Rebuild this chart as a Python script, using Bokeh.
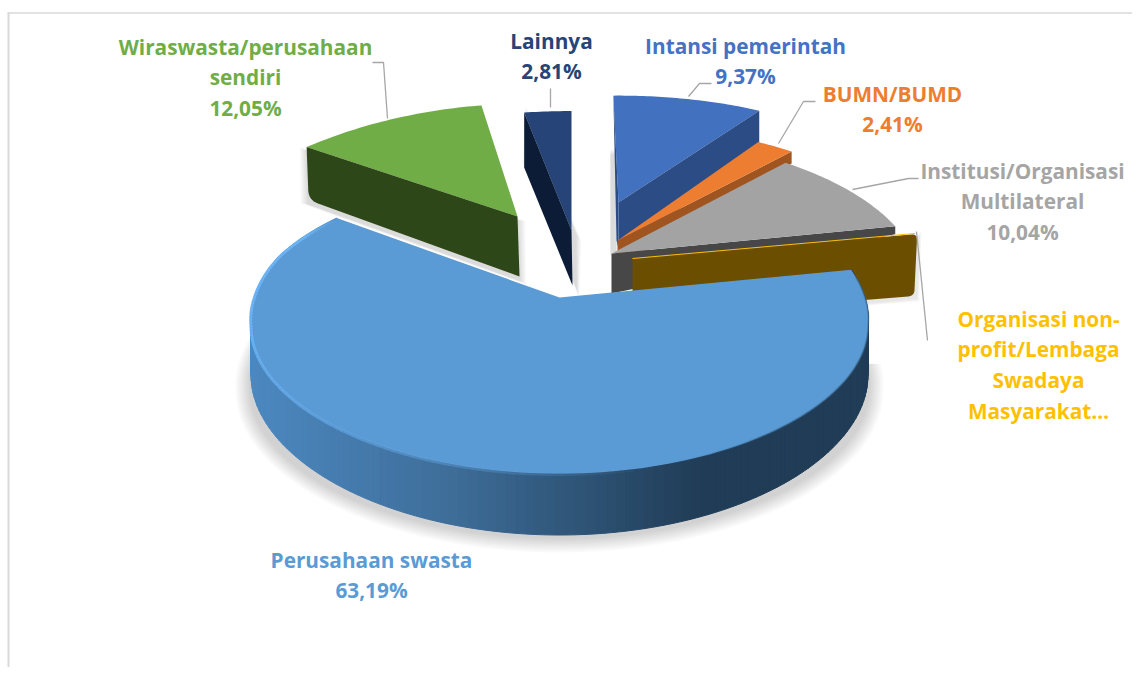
import math
from bokeh.plotting import figure
from bokeh.models import Range1d
from bokeh.core.properties import value
from bokeh.embed import file_html
from bokeh.resources import INLINE

# ---------- data ----------
categories = ["Intansi pemerintah", "BUMN/BUMD", "Institusi/Organisasi Multilateral",
              "Organisasi non-profit/Lembaga Swadaya Masyarakat", "Perusahaan swasta",
              "Wiraswasta/perusahaan sendiri", "Lainnya"]
shares = [9.37, 2.41, 10.04, 0.13, 63.19, 12.05, 2.81]
label_lines = [["Intansi pemerintah"], ["BUMN/BUMD"], ["Institusi/Organisasi", "Multilateral"],
               ["Organisasi non-", "profit/Lembaga", "Swadaya", "Masyarakat…"],
               ["Perusahaan swasta"], ["Wiraswasta/perusahaan", "sendiri"], ["Lainnya"]]
show_share = [True, True, True, False, True, True, True]

# ---------- styles ----------
top_colors = ["#4171BF", "#ED7D31", "#A3A3A3", "#FFC000", "#5B9BD5", "#70AD47", "#264478"]
side_colors = ["#2C4C85", "#A0541F", "#474747", "#6B4E00", "#21405C", "#2E4719", "#0C1C36"]
label_colors = ["#4472C4", "#ED7D31", "#A5A5A5", "#FFC000", "#5B9BD5", "#70AD47", "#264478"]
# apex of each wedge on the page, radius scale, vertical scale, depth at apex
apex = [(618, 202), (617, 240), (611, 253), (632, 258), (559, 297), (517, 216), (571, 230)]
rscale = [1.0, 1.0, 1.0, 1.0, 1.0, 0.985, 1.12]
yscale = [0.98, 1.05, 1.07, 1.0, 1.0, 1.0, 1.0]
depth = [46, 46, 40, 60, 47, 60, 55]
AX, BX, K = 303.0, 134.7, 0.235
MAIN_AX, MAIN_KX, MAIN_UP = 310.0, 0.2, 1.13
label_xy = [(745, 45), (892, 93), (1022, 170), (1038, 318), (371, 559), (245, 46), (551, 40)]
LINE_H = 30.7
leaders = [[(688, 96), (699, 83), (711, 83)], [(778, 143), (803, 101), (815, 101)],
           [(852, 189), (908, 178), (918, 178)], [(916, 231), (927, 340)], [],
           [(372, 62), (383, 62), (387, 118)], [(550, 107), (550, 88)]]

p = figure(width=1132, height=667, x_range=Range1d(0, 1132), y_range=Range1d(667, 0),
           x_axis_type=None, y_axis_type=None, toolbar_location=None, tools="",
           output_backend="svg", min_border=0)
p.grid.visible = False
p.outline_line_color = None
p.background_fill_color = "#FFFFFF"

# geometry derived from the values
starts, c = [], 0.0
total = sum(shares)
for s in shares:
    starts.append(c)
    c += s / total * 360.0
ends = [st + s / total * 360.0 for st, s in zip(starts, shares)]
M = 4
G = 5


def proj(i, th):
    t = math.radians(th)
    u, v = math.sin(t) * rscale[i], math.cos(t) * rscale[i]
    s = 1 / (1 + K * v)
    if i == M:
        warp = 1 - 0.025 * min(1.0, max(0.0, (0.3 - v) / 0.5))
        up = MAIN_UP if v > 0 else 1.0
        return apex[i][0] + MAIN_AX * u / (1 + MAIN_KX * v) * warp, apex[i][1] - BX * v * s * up
    x, y = AX * u * s, BX * v * s * yscale[i]
    if i == G:
        x += max(0.0, v - 0.6) * 18
        y *= 1 + max(0.0, v - 0.6) * 0.12
    return apex[i][0] + x, apex[i][1] - y


def persp(th):
    return 1 / (1 + K * math.cos(math.radians(th)))


def arc(i, a0, a1, n=40):
    return [proj(i, a0 + (a1 - a0) * j / n) for j in range(n + 1)]


def poly(pts, fill, line=None, lw=1.0, alpha=1.0):
    p.patch([q[0] for q in pts], [q[1] for q in pts], fill_color=fill, fill_alpha=alpha,
            line_color=line or fill, line_width=lw, line_alpha=alpha if line else 0)


def rounded(pts, idx, r):
    out = []
    for j, q in enumerate(pts):
        if j in idx:
            a, b = pts[j - 1], pts[(j + 1) % len(pts)]
            la = math.dist(a, q)
            lb = math.dist(b, q)
            s = (q[0] + (a[0] - q[0]) * r / la, q[1] + (a[1] - q[1]) * r / la)
            e = (q[0] + (b[0] - q[0]) * r / lb, q[1] + (b[1] - q[1]) * r / lb)
            for n in range(9):
                t = n / 8
                out.append(((1 - t) ** 2 * s[0] + 2 * t * (1 - t) * q[0] + t * t * e[0],
                            (1 - t) ** 2 * s[1] + 2 * t * (1 - t) * q[1] + t * t * e[1]))
        else:
            out.append(q)
    return out


def soft(pts, dx, dy, grow, layers=6, alpha=0.025):
    cx = sum(q[0] for q in pts) / len(pts)
    cy = sum(q[1] for q in pts) / len(pts)
    for l in range(layers):
        f = (l + 1) / layers * grow
        out = []
        for q in pts:
            d = math.dist(q, (cx, cy)) or 1
            out.append((q[0] + (q[0] - cx) / d * f + dx, q[1] + (q[1] - cy) / d * f + dy))
        p.patch([q[0] for q in out], [q[1] for q in out], fill_color="#000000",
                fill_alpha=alpha, line_alpha=0)


def hex_mix(c0, c1, t):
    a = [int(c0[j:j + 2], 16) for j in (1, 3, 5)]
    b = [int(c1[j:j + 2], 16) for j in (1, 3, 5)]
    return "#%02X%02X%02X" % tuple(round(x + (y - x) * t) for x, y in zip(a, b))


# ---------- chart frame ----------
p.line([8, 8], [12, 667], line_color="#D9D9D9", line_width=2)
p.line([7, 1132], [12.5, 12.5], line_color="#D9D9D9", line_width=1.5)

# ---------- main slice shadow ----------
for l in range(9):
    f = 1 + 0.0055 * (l + 1)
    pts = []
    for q in arc(M, starts[M] + 12, ends[M] - 25, 80):
        th_x = apex[M][0] + (q[0] - apex[M][0]) * f
        th_y = apex[M][1] + (q[1] - apex[M][1]) * (f + 0.004 * (l + 1))
        pts.append((th_x, th_y + 64))
    p.patch([q[0] for q in pts], [q[1] for q in pts], fill_color="#000000", fill_alpha=0.02, line_alpha=0)

# ---------- Lainnya ----------
i = 6
a0, a1 = proj(i, starts[i]), proj(i, ends[i])
side = [a0, apex[i], (apex[i][0] + 1, apex[i][1] + depth[i]), (a0[0], a0[1] + depth[i])]
soft(side, 4, 3, 10)
poly(arc(i, starts[i], ends[i], 12) + [apex[i]], top_colors[i])
poly(side, side_colors[i])

# ---------- Wiraswasta ----------
i = 5
a0 = proj(i, starts[i])
side = [a0, apex[i], (apex[i][0] + 2, apex[i][1] + depth[i]), (a0[0] + 2, a0[1] + 53)]
soft(side, 0, 4, 8)
poly(arc(i, starts[i], ends[i]) + [apex[i]], top_colors[i])
poly(rounded(side, [3], 10), side_colors[i])

# ---------- Intansi ----------
i = 0
a1 = proj(i, ends[i])
soft([(apex[i][0] - 8, 155), (apex[i][0] - 2, 155), (apex[i][0] - 2, 250), (apex[i][0] - 8, 250)], 0, 0, 6)
corner = proj(i, starts[i] - 1.2)
poly(arc(i, starts[i] - 1.2, ends[i]) + [apex[i]], top_colors[i])
poly([corner, apex[i], (apex[i][0], apex[i][1] + depth[i]), (apex[i][0] - 2, apex[i][1] + depth[i] - 8)], side_colors[i])
poly([apex[i], a1, (a1[0], a1[1] + 46), (apex[i][0], apex[i][1] + depth[i])], side_colors[i])

# ---------- BUMN ----------
i = 1
a1 = proj(i, ends[i])
poly([apex[i], a1, (a1[0], a1[1] + 12), (apex[i][0], apex[i][1] + 28)], side_colors[i])
poly(arc(i, starts[i], ends[i], 10) + [apex[i]], top_colors[i])

# ---------- Institusi ----------
i = 2
a1 = proj(i, ends[i])
poly([apex[i], a1, (a1[0], a1[1] + 8), (apex[i][0], apex[i][1] + depth[i])], side_colors[i])
poly(arc(i, starts[i], ends[i]) + [apex[i]], top_colors[i])

# ---------- Organisasi non-profit (very thin slice) ----------
i = 3
a1 = proj(i, ends[i])
side = [apex[i], a1, (a1[0] - 3, a1[1] + depth[i] + 2), (apex[i][0], apex[i][1] + depth[i])]
soft(side[1:3] + [(a1[0] - 60, a1[1] + depth[i] + 8)], 2, 2, 5, layers=4)
poly(rounded(side, [1, 2], 6), side_colors[i])
p.line([apex[i][0], a1[0] - 2], [apex[i][1], a1[1] - 0.5], line_color=top_colors[i], line_width=1)

# ---------- Perusahaan swasta ----------
i = M
steps = 150
dark, mid, light = "#203C56", "#3F6F9B", "#4C88C0"
xs, ys, cols = [], [], []
for j in range(steps):
    t0 = starts[i] + (ends[i] - starts[i]) * j / steps
    t1 = starts[i] + (ends[i] - starts[i]) * (j + 1) / steps
    q0, q1 = proj(i, t0), proj(i, t1)
    d0, d1 = depth[i] * persp(t0), depth[i] * persp(t1)
    xs.append([q0[0], q1[0], q1[0], q0[0]])
    ys.append([q0[1], q1[1], q1[1] + d1, q0[1] + d0])
    xm = (q0[0] + q1[0]) / 2
    if xm > 700:
        col = dark
    elif xm > 440:
        col = hex_mix(mid, dark, (xm - 440) / 260)
    else:
        col = hex_mix(light, mid, max(0, (xm - 250) / 190))
    cols.append(col)
p.patches(xs, ys, fill_color=cols, line_color=cols, line_width=1)
poly(arc(i, starts[i], ends[i], 160) + [apex[i]], top_colors[i])

# rim light along the front edge, fading towards the dark side
sx, sy, sc, sa = [], [], [], []
n = 120
for j in range(n):
    t0 = ends[i] - (ends[i] - 165) * j / n
    t1 = ends[i] - (ends[i] - 165) * (j + 1) / n
    q0, q1 = proj(i, t0), proj(i, t1)
    sx.append([q0[0], q1[0]])
    sy.append([q0[1] + 1, q1[1] + 1])
    sc.append("#6CB4F5")
    sa.append(min(1.0, 1.4 * (1 - j / n)) if j > 8 else j / 8)
p.multi_line(sx, sy, line_color=sc, line_alpha=sa, line_width=3)
sx, sy, sa = [], [], []
n = 70
for j in range(n):
    t0 = 165 - (165 - 82) * j / n
    t1 = 165 - (165 - 82) * (j + 1) / n
    q0, q1 = proj(i, t0), proj(i, t1)
    sx.append([q0[0], q1[0]])
    sy.append([q0[1], q1[1]])
    sa.append(min(0.45, j / 40))
p.multi_line(sx, sy, line_color="#3C6E9C", line_alpha=sa, line_width=2)

# ---------- leader lines ----------
for pts in leaders:
    if pts:
        p.line([q[0] for q in pts], [q[1] for q in pts], line_color="#A6A6A6", line_width=1.3)

# ---------- labels ----------
tx, ty, tt, tc = [], [], [], []
for k, lines in enumerate(label_lines):
    rows = list(lines)
    if show_share[k]:
        rows.append(f"{shares[k]:.2f}%".replace(".", ","))
    for r, t in enumerate(rows):
        tx.append(label_xy[k][0])
        ty.append(label_xy[k][1] + r * LINE_H)
        tt.append(t)
        tc.append(label_colors[k])
p.text(tx, ty, text=tt, text_color=tc, text_align="center", text_baseline="middle",
       text_font=value("Open Sans"), text_font_style="bold", text_font_size="20.8px")

open("out.html", "w").write(file_html(p, INLINE))
